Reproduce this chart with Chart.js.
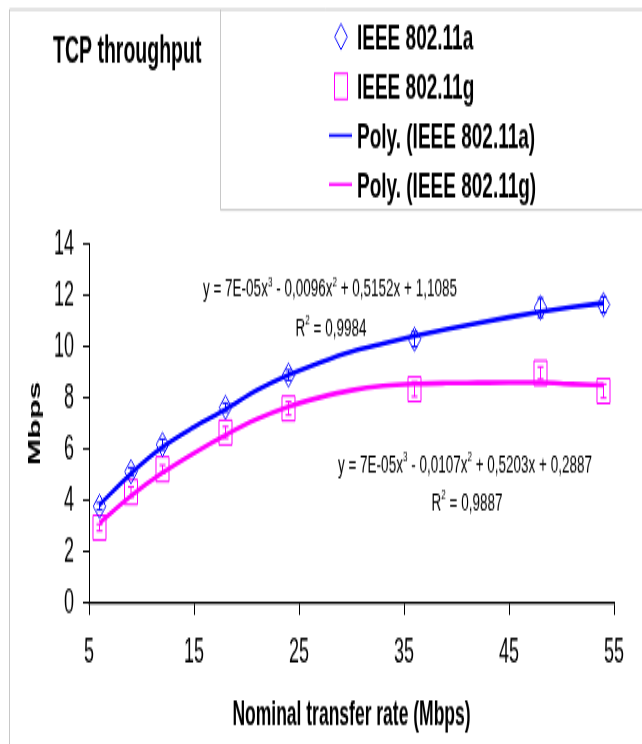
<!DOCTYPE html>
<html>
<head>
<meta charset="utf-8">
<script src="https://cdn.jsdelivr.net/npm/chart.js@4.4.1/dist/chart.umd.min.js"></script>
<style>
  html, body { margin: 0; padding: 0; background: #fff; }
</style>
</head>
<body>
<!-- the reference is a chart picture stretched tall: draw it 392 high and show it 744 high -->
<canvas id="chart" width="642" height="392" style="width:642px;height:744px;display:block"></canvas>
<script>
// measured points (Mbps) with their error bars
const rates = [6, 9, 12, 18, 24, 36, 48, 54];
const tput11a = [3.77, 5.12, 6.18, 7.63, 8.89, 10.29, 11.52, 11.64];
const err11a = [0.14, 0.16, 0.21, 0.17, 0.2, 0.29, 0.37, 0.3];
const tput11g = [2.94, 4.33, 5.22, 6.65, 7.59, 8.34, 8.97, 8.27];
const err11g = [0.13, 0.2, 0.16, 0.23, 0.26, 0.29, 0.24, 0.27];

// polynomial trend lines
const trendX = [6, 9, 12, 15, 18, 21, 24, 27, 30, 33, 36, 39, 42, 45, 48, 51, 54];
const trend11a = [3.82, 5.05, 6.08, 6.86, 7.55, 8.3, 8.9, 9.38, 9.8, 10.12, 10.42, 10.68, 10.92, 11.15, 11.36, 11.54, 11.7];
const trend11g = [3.12, 4.18, 5.08, 5.85, 6.55, 7.17, 7.66, 8.02, 8.3, 8.47, 8.55, 8.58, 8.59, 8.6, 8.6, 8.54, 8.5];

const xTicks = [5, 15, 25, 35, 45, 55];
const yTicks = [0, 2, 4, 6, 8, 10, 12, 14];
const seriesNames = ['IEEE 802.11a', 'IEEE 802.11g', 'Poly. (IEEE 802.11a)', 'Poly. (IEEE 802.11g)'];
const chartTitle = 'TCP throughput';
const eq11a = ['y = 7E-05x^3 - 0,0096x^2 + 0,5152x + 1,1085', 'R^2 = 0,9984'];
const eq11g = ['y = 7E-05x^3 - 0,0107x^2 + 0,5203x + 0,2887', 'R^2 = 0,9887'];

const BLUE = '#0000ff';
const PINK = '#ff00ff';
const FONT = "'Liberation Sans', Arial, sans-serif";

function pts(xs, ys) {
	return xs.map((x, i) => ({x: x, y: ys[i]}));
}

function drawEq(ctx, text, cx, baseline) {
	const size = 13.5;
	ctx.save();
	ctx.translate(cx, baseline);
	ctx.scale(1, 0.95);
	ctx.fillStyle = '#000';
	ctx.textBaseline = 'alphabetic';
	let parts = text.split(/\^(\d)/);
	let fonts = parts.map((p, i) => (i % 2 ? size * 0.6 : size) + 'px ' + FONT);
	let w = 0;
	parts.forEach((p, i) => { ctx.font = fonts[i]; w += ctx.measureText(p).width; });
	let x = -w / 2;
	parts.forEach((p, i) => {
		ctx.font = fonts[i];
		ctx.fillText(p, x, i % 2 ? -size * 0.45 : 0);
		x += ctx.measureText(p).width;
	});
	ctx.restore();
}

const errorBars = {
	id: 'errorBars',
	afterDatasetsDraw(chart) {
		let ctx = chart.ctx;
		let xs = chart.scales.x, ys = chart.scales.y;
		[[tput11a, err11a, BLUE], [tput11g, err11g, PINK]].forEach(s => {
			ctx.save();
			ctx.strokeStyle = s[2];
			ctx.lineWidth = 1;
			for (let i in rates) {
				let px = xs.getPixelForValue(rates[i]);
				let lo = ys.getPixelForValue(s[0][i] - s[1][i]);
				let hi = ys.getPixelForValue(s[0][i] + s[1][i]);
				ctx.beginPath();
				ctx.moveTo(px, lo); ctx.lineTo(px, hi);
				ctx.moveTo(px - 3, lo); ctx.lineTo(px + 3, lo);
				ctx.moveTo(px - 3, hi); ctx.lineTo(px + 3, hi);
				ctx.stroke();
			}
			ctx.restore();
		});
	}
};

const decorations = {
	id: 'decorations',
	afterDraw(chart) {
		let ctx = chart.ctx;
		ctx.save();
		// chart frame and legend box
		ctx.strokeStyle = '#c8c8c8';
		ctx.lineWidth = 1;
		ctx.beginPath();
		ctx.moveTo(9.5, 392); ctx.lineTo(9.5, 5); ctx.lineTo(642, 5);
		ctx.moveTo(220.5, 5); ctx.lineTo(220.5, 110.6); ctx.lineTo(642, 110.6);
		ctx.stroke();

		ctx.fillStyle = '#000';
		ctx.textBaseline = 'alphabetic';
		ctx.font = 'bold 19.5px ' + FONT;
		ctx.fillText(chartTitle, 53, 33.4);

		// legend
		const rows = [19.3, 45.5, 71.4, 97.2];
		ctx.font = 'bold 19px ' + FONT;
		seriesNames.forEach((name, i) => {
			ctx.fillStyle = '#000';
			ctx.fillText(name, 357, rows[i] + 6.8);
		});
		ctx.lineWidth = 1;
		ctx.strokeStyle = BLUE;
		ctx.beginPath();
		ctx.moveTo(341, rows[0] - 6.8); ctx.lineTo(347.3, rows[0]);
		ctx.lineTo(341, rows[0] + 6.8); ctx.lineTo(334.7, rows[0]);
		ctx.closePath();
		ctx.stroke();
		ctx.strokeStyle = PINK;
		ctx.strokeRect(334.5, rows[1] - 6.8, 13, 13.6);
		ctx.lineWidth = 1.6;
		ctx.strokeStyle = BLUE;
		ctx.beginPath(); ctx.moveTo(329, rows[2]); ctx.lineTo(352, rows[2]); ctx.stroke();
		ctx.strokeStyle = PINK;
		ctx.beginPath(); ctx.moveTo(329, rows[3]); ctx.lineTo(352, rows[3]); ctx.stroke();

		// trend line equations
		drawEq(ctx, eq11a[0], 330, 156.3);
		drawEq(ctx, eq11a[1], 331, 176.5);
		drawEq(ctx, eq11g[0], 465, 248.5);
		drawEq(ctx, eq11g[1], 467, 269.2);
		ctx.restore();
	}
};

Chart.defaults.font.family = FONT;
Chart.defaults.color = '#000';

new Chart(document.getElementById('chart'), {
	type: 'scatter',
	data: {
		datasets: [
			{label: seriesNames[0], data: pts(rates, tput11a), pointStyle: 'rectRot', pointRadius: 6.3,
				borderColor: BLUE, backgroundColor: 'rgba(0,0,0,0)', borderWidth: 1, showLine: false, order: 2},
			{label: seriesNames[1], data: pts(rates, tput11g), pointStyle: 'rect', pointRadius: 9.2,
				borderColor: PINK, backgroundColor: 'rgba(0,0,0,0)', borderWidth: 1, showLine: false, order: 2},
			{label: seriesNames[2], data: pts(trendX, trend11a), showLine: true, pointRadius: 0,
				borderColor: BLUE, borderWidth: 2.6, tension: 0.4, cubicInterpolationMode: 'monotone', order: 1},
			{label: seriesNames[3], data: pts(trendX, trend11g), showLine: true, pointRadius: 0,
				borderColor: PINK, borderWidth: 2.6, tension: 0.4, cubicInterpolationMode: 'monotone', order: 1}
		]
	},
	options: {
		responsive: false,
		animation: false,
		events: [],
		layout: {padding: {left: 10, right: 28, top: 128.6, bottom: 0}},
		plugins: {legend: {display: false}, tooltip: {enabled: false}},
		scales: {
			x: {
				type: 'linear', min: 5, max: 55,
				afterBuildTicks: s => { s.ticks = xTicks.map(v => ({value: v})); },
				afterFit: s => { s.height = 74.3; },
				grid: {drawOnChartArea: false, tickLength: 6.3, color: '#000'},
				border: {color: '#000', width: 1.2},
				ticks: {font: {size: 18}, padding: 9.5, maxRotation: 0},
				title: {display: true, text: 'Nominal transfer rate (Mbps)', font: {size: 17.5, weight: 'bold'},
					padding: {top: 0, bottom: 4}}
			},
			y: {
				min: 0, max: 14,
				afterBuildTicks: s => { s.ticks = yTicks.map(v => ({value: v})); },
				afterFit: s => { s.width = 79; },
				grid: {drawOnChartArea: false, tickLength: 6, color: '#000'},
				border: {color: '#000', width: 1},
				ticks: {font: {size: 18}, padding: 9},
				title: {display: true, text: 'Mbps', font: {size: 17, weight: 'bold'}, padding: {top: 14.8, bottom: 0}}
			}
		}
	},
	plugins: [errorBars, decorations]
});
</script>
</body>
</html>
